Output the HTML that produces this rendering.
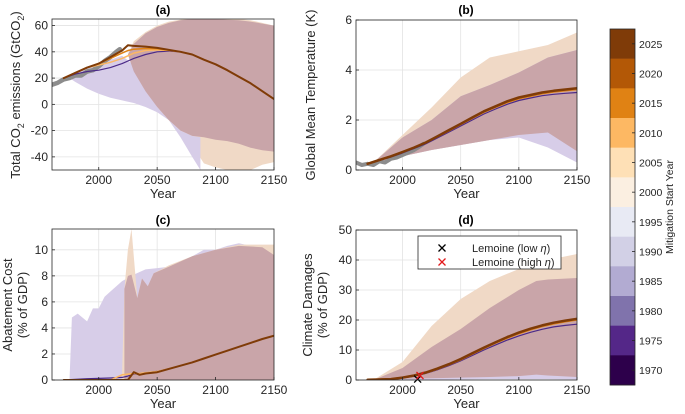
<!DOCTYPE html>
<html><head><meta charset="utf-8">
<style>
body{margin:0;background:#fff;}
svg{display:block;font-family:"Liberation Sans",sans-serif;}
</style></head>
<body>
<svg id="fig" width="685" height="414" viewBox="0 0 685 414" xmlns="http://www.w3.org/2000/svg"></svg>
<script>
// ---------- DATA ----------
// Panel (a) emissions
const aYears=[1970,1980,1990,2000,2010,2020,2025,2030,2040,2050,2060,2070,2080,2090,2100,2110,2120,2130,2140,2150];
const aLine2025=[20,24,28,31,36,41,45,44.5,44,43,41.5,40,38,34,30.5,26,21,16,10,4];
const aLine2015=[20,24,28,31,35,39,41,42,42.5,42.3,41.2,40,38,34,30.5,26,21,16,10,4];
const aLine2005=[20,24,28,30,32,35,37,39,41,41.5,41,40,38,34,30.5,26,21,16,10,4];
const aLine1970=[20,23,25,26,28,31,33,35,38,40,40.5,40,38,34,30.5,26,21,16,10,4];
const aHistYears=[1960,1965,1970,1975,1980,1985,1990,1995,2000,2005,2010,2015,2018];
const aHist=[15,16.5,19,20,22,22,25,26,29,33,36,40,42];
const aPurpleYears=[1975,1980,1990,2000,2010,2020,2030,2040,2050,2060,2070,2080,2087];
const aPurpleLo=[20,17,12,8,5,3,1,-2,-6,-12,-25,-40,-50];
const aPurpleHi=[21,24,28,31,34,37,30,12,-2,-12,-20,-24,-25];
const aTanYears=[2025,2030,2040,2050,2060,2080,2085,2090,2100,2110,2120,2130,2140,2150];
const aTanLo=[38,25,10,-2,-12,-25,-38,-45,-48,-50,-50,-50,-46,-44];
const aTanHi=[38,48,55,60,63,66,66,66,66,66,65,64,62,60];
const aOvYears=[2025,2030,2040,2050,2060,2070,2080,2090,2100,2110,2120,2130,2140,2150];
const aOvLo=[38,25,10,-2,-12,-20,-24,-25,-27,-28,-30,-33,-35,-36];
const aOvHi=[38,46,54,59,62,64,65,65,65,64.5,64,63,61.5,60];

// Panel (b) temperature
const bYears=[1970,1980,1990,2000,2010,2020,2030,2040,2050,2060,2070,2080,2090,2100,2110,2120,2130,2140,2150];
const bLine2025=[0.25,0.4,0.55,0.72,0.9,1.1,1.35,1.6,1.85,2.1,2.35,2.55,2.75,2.9,3.0,3.1,3.17,3.22,3.27];
const bLine2015=[0.25,0.4,0.55,0.72,0.9,1.1,1.34,1.58,1.83,2.08,2.32,2.52,2.71,2.86,2.96,3.06,3.13,3.18,3.23];
const bLine1970=[0.25,0.38,0.52,0.68,0.86,1.05,1.28,1.52,1.76,2.0,2.24,2.44,2.63,2.78,2.88,2.97,3.03,3.07,3.1];
const bHistYears=[1960,1965,1970,1975,1980,1985,1990,1995,2000,2005,2010,2015,2018];
const bHist=[0.3,0.2,0.25,0.2,0.35,0.3,0.45,0.5,0.6,0.7,0.8,0.95,1.05];
const bBandYears=[1975,2000,2025,2050,2075,2100,2125,2150];
const bTanLo=[0.25,0.55,0.8,1.0,1.2,1.4,1.5,0.75];
const bTanHi=[0.3,1.4,2.5,3.7,4.5,4.75,5.0,5.5];
const bPurpleLo=[0.25,0.55,0.8,1.0,1.2,1.3,0.9,0.3];
const bPurpleHi=[0.3,1.3,2.0,2.95,3.4,3.9,4.5,4.8];
const bOvLo=[0.25,0.55,0.8,1.0,1.2,1.4,1.5,0.75];
const bOvHi=[0.3,1.3,2.0,2.95,3.4,3.9,4.5,4.8];

// Panel (c) abatement cost
const cYears=[1970,1980,1990,2000,2010,2020,2025,2030,2035,2040,2050,2060,2070,2080,2090,2100,2110,2120,2130,2140,2150];
const cLine2025=[0,0,0,0,0,0,0,0.6,0.4,0.5,0.6,0.85,1.1,1.35,1.65,1.95,2.25,2.55,2.85,3.15,3.4];
const cLine2010=[0,0,0,0,0,0.4,0.45,0.5,0.5,0.55,0.65,0.87,1.1,1.35,1.65,1.95,2.25,2.55,2.85,3.15,3.4];
const cLine1970=[0,0.05,0.1,0.12,0.15,0.2,0.3,0.45,0.5,0.55,0.66,0.87,1.1,1.35,1.65,1.95,2.25,2.55,2.85,3.15,3.4];
const cPurpleYears=[1975,1977,1982,1990,1995,2000,2005,2010,2020,2030,2040,2050,2060,2070,2080,2090,2100,2110,2120,2130,2140,2150];
const cPurpleHi=[0,4.8,5.1,4.5,5.5,5.5,6.4,6.8,7.6,8.1,8.5,8.6,8.7,9.0,9.5,10,10,10.3,10.5,10.3,10.2,9.6];
const cTanYears=[2020,2022,2025,2028,2033,2037,2042,2047,2060,2080,2100,2120,2150];
const cTanHi=[0.5,7,10,11.6,6.3,7.8,7.2,8.2,8.8,9.5,10,10.4,10.4];
const cOvYears=[2022,2025,2028,2033,2037,2042,2047,2060,2080,2100,2120,2140,2150];
const cOvHi=[7,8,8.1,6.3,7.8,7.2,8.2,8.7,9.5,10,10.3,10.2,9.6];

// Panel (d) damages
const dYears=[1970,1990,2000,2010,2020,2030,2040,2050,2060,2070,2080,2090,2100,2110,2120,2130,2140,2150];
const dLine2025=[0.1,0.3,0.8,1.5,2.5,3.8,5.3,7,8.9,10.8,12.6,14.3,15.8,17.1,18.2,19.1,19.8,20.4];
const dLine2015=[0.1,0.3,0.8,1.5,2.4,3.7,5.2,6.8,8.7,10.6,12.4,14.0,15.5,16.8,17.9,18.8,19.5,20.1];
const dLine1970=[0.1,0.3,0.7,1.3,2.2,3.4,4.8,6.4,8.2,10.0,11.7,13.3,14.7,15.9,16.9,17.7,18.2,18.6];
const dBandYears=[1975,2000,2025,2050,2075,2100,2115,2125,2150];
const dTanHi=[0,6,18,27,33,37,38.5,40,42];
const dOvLo=[0,0.2,0.4,0.6,0.8,1.0,1.2,1.1,0.8];
const dOvHi=[0,4,11,17,24,30,33,33.5,34];
const dPurpleLo=[0,0.1,0.1,0.2,0.3,0.3,0.3,0.3,0.2];
const dPurpleHi=[0,0.4,0.6,0.8,1.0,1.3,1.8,1.5,1.0];
const lemYears=[2013,2015];
const lemVals=[0.3,1.5];

// Colorbar
const cbYears=[2025,2020,2015,2010,2005,2000,1995,1990,1985,1980,1975,1970];
const cbColors=["#7f3b08","#b35806","#e08214","#fdb863","#fee0b6","#fbefe1","#e8eaf4","#d2d0e6","#b2abd2","#8073ac","#542788","#2d004b"];

// ---------- DRAWING ----------
const NS="http://www.w3.org/2000/svg";
const svg=document.getElementById('fig');
function el(tag,attrs,parent){const e=document.createElementNS(NS,tag);for(const k in attrs)e.setAttribute(k,attrs[k]);(parent||svg).appendChild(e);return e;}
const PUR="#d7cde8",TAN="#f0d9c6",OV="#c9a5a9",GRAY="#8c8c8c";

function makeAxes(name,x0,x1,y0,y1,xmin,xmax,ymin,ymax,yticks){
  const g=el('g',{});
  
  
  const sx=v=>x0+(v-xmin)/(xmax-xmin)*(x1-x0);
  const sy=v=>y1-(v-ymin)/(ymax-ymin)*(y1-y0);
  const cp='clip-'+name;
  const c=el('clipPath',{id:cp},g);el('rect',{x:x0,y:y0,width:x1-x0,height:y1-y0},c);
  const grid=el('g',{},g);
  
  
  [2000,2050,2100].forEach(t=>el('line',{x1:sx(t),x2:sx(t),y1:y0,y2:y1,stroke:'#e3e3e3','stroke-width':0.8},grid));
  yticks.forEach(t=>el('line',{x1:x0,x2:x1,y1:sy(t),y2:sy(t),stroke:'#e3e3e3','stroke-width':0.8},grid));
  const plot=el('g',{'clip-path':'url(#'+cp+')'},g);
  
  
  return {g,plot,sx,sy,x0,x1,y0,y1,yticks};
}
function finishAxes(ax,name){
  const {g,sx,sy,x0,x1,y0,y1,yticks}=ax;
  el('rect',{x:x0,y:y0,width:x1-x0,height:y1-y0,fill:'none',stroke:'#262626','stroke-width':0.8},g);
  [2000,2050,2100,2150].forEach(t=>{
    el('line',{x1:sx(t),x2:sx(t),y1:y1,y2:y1-3,stroke:'#262626','stroke-width':0.8},g);
    const tx=el('text',{x:sx(t),y:y1+14,'text-anchor':'middle','font-size':12,fill:'#262626'},g);
    tx.textContent=t;
    
    
  });
  yticks.forEach(t=>{
    el('line',{x1:x0,x2:x0+3,y1:sy(t),y2:sy(t),stroke:'#262626','stroke-width':0.8},g);
    const tx=el('text',{x:x0-4,y:sy(t)+4,'text-anchor':'end','font-size':12,fill:'#262626'},g);
    tx.textContent=t;
    
    
  });
  const xl=el('text',{x:(x0+x1)/2,y:y1+28,'text-anchor':'middle','font-size':13,fill:'#262626'},g);
  xl.textContent='Year';
  
  
}
function band(ax,years,lo,hi,color,name){
  let d='';
  years.forEach((y,i)=>{d+=(i?'L':'M')+ax.sx(y).toFixed(1)+','+ax.sy(hi[i]).toFixed(1);});
  for(let i=years.length-1;i>=0;i--)d+='L'+ax.sx(years[i]).toFixed(1)+','+ax.sy(lo[i]).toFixed(1);
  const p=el('path',{d:d+'Z',fill:color,stroke:'none'},ax.plot);
  
  
}
function line(ax,years,vals,color,w,name){
  const d=years.map((y,i)=>(i?'L':'M')+ax.sx(y).toFixed(1)+','+ax.sy(vals[i]).toFixed(1)).join('');
  const p=el('path',{d,fill:'none',stroke:color,'stroke-width':w,'stroke-linejoin':'round','stroke-linecap':'round'},ax.plot);
  
  
}
function title(txt,x,y,name){
  const t=el('text',{x,y,'text-anchor':'middle','font-size':12,'font-weight':'bold',fill:'#000'});
  t.textContent=txt;
  
  
}
function ylabel(lines,x,y,name){
  const t=el('text',{transform:`translate(${x},${y}) rotate(-90)`,'text-anchor':'middle','font-size':13,fill:'#262626'});
  
  
  lines.forEach((l,i)=>{const s=el('tspan',{x:0,dy:i?15:0},t);s.textContent=l;});
  return t;
}
const zeros=a=>a.map(()=>0);

// Panel (a)
const A=makeAxes('panel-a',52,274,19,170,1960,2150,-50,65,[-40,-20,0,20,40,60]);
band(A,aTanYears,aTanLo,aTanHi,TAN,'a-band-late');
band(A,aPurpleYears,aPurpleLo,aPurpleHi,PUR,'a-band-early');
band(A,aOvYears,aOvLo,aOvHi,OV,'a-band-overlap');
line(A,aHistYears,aHist,GRAY,4.5,'a-historical');
line(A,aYears,aLine1970,'#4b2a88',1.2,'a-line-1970');
line(A,aYears,aLine2005,'#fdb863',1.5,'a-line-2005');
line(A,aYears,aLine2015,'#e08214',1.5,'a-line-2015');
line(A,aYears,aLine2025,'#7f3b08',2,'a-line-2025');
finishAxes(A,'panel-a');
title('(a)',163,14,'title-a');
const yla=el('text',{transform:'translate(20,95) rotate(-90)','text-anchor':'middle','font-size':13,fill:'#262626'});


yla.innerHTML='Total CO<tspan font-size="9" dy="4">2</tspan><tspan dy="-4"> emissions (GtCO</tspan><tspan font-size="9" dy="4">2</tspan><tspan dy="-4">)</tspan>';

// Panel (b)
const B=makeAxes('panel-b',356,577,20,170,1960,2150,0,6,[0,2,4,6]);
band(B,bBandYears,bTanLo,bTanHi,TAN,'b-band-late');
band(B,bBandYears,bPurpleLo,bPurpleHi,PUR,'b-band-early');
band(B,bBandYears,bOvLo,bOvHi,OV,'b-band-overlap');
line(B,bHistYears,bHist,GRAY,4,'b-historical');
line(B,bYears,bLine1970,'#4b2a88',1.2,'b-line-1970');
line(B,bYears,bLine2015,'#e08214',2,'b-line-2015');
line(B,bYears,bLine2025,'#7f3b08',2.5,'b-line-2025');
finishAxes(B,'panel-b');
title('(b)',466,14,'title-b');
ylabel(['Global Mean Temperature (K)'],315,95,'b-y-axis-title');

// Panel (c)
const C=makeAxes('panel-c',52,274,229,380,1960,2150,0,11.6,[0,2,4,6,8,10]);
band(C,cPurpleYears,zeros(cPurpleYears),cPurpleHi,PUR,'c-band-early');
band(C,cTanYears,zeros(cTanYears),cTanHi,TAN,'c-band-late');
band(C,cOvYears,zeros(cOvYears),cOvHi,OV,'c-band-overlap');
line(C,cYears,cLine1970,'#4b2a88',1.2,'c-line-1970');
line(C,cYears,cLine2010,'#fdb863',1.5,'c-line-2010');
line(C,cYears,cLine2025,'#7f3b08',2,'c-line-2025');
finishAxes(C,'panel-c');
title('(c)',163,224,'title-c');
ylabel(['Abatement Cost','(% of GDP)'],12,305,'c-y-axis-title');

// Panel (d)
const D=makeAxes('panel-d',356,577,230,380,1960,2150,0,50,[0,10,20,30,40,50]);
band(D,dBandYears,dOvLo,dTanHi,TAN,'d-band-late');
band(D,dBandYears,dOvLo,dOvHi,OV,'d-band-overlap');
band(D,dBandYears,dPurpleLo,dPurpleHi,PUR,'d-band-early');
line(D,dYears,dLine1970,'#4b2a88',1.2,'d-line-1970');
line(D,dYears,dLine2015,'#e08214',2,'d-line-2015');
line(D,dYears,dLine2025,'#7f3b08',2.5,'d-line-2025');
const mk=['#000','#e31a1c'];
lemYears.forEach((y,i)=>{
  const cx=D.sx(y),cy=D.sy(lemVals[i]);
  const m=el('path',{d:`M${cx-3.5},${cy-3.5}L${cx+3.5},${cy+3.5}M${cx-3.5},${cy+3.5}L${cx+3.5},${cy-3.5}`,stroke:mk[i],'stroke-width':1.3},D.g);
  
  
});
finishAxes(D,'panel-d');
title('(d)',466,224,'title-d');
ylabel(['Climate Damages','(% of GDP)'],312,305,'d-y-axis-title');
const leg=el('g',{});


el('rect',{x:418,y:236,width:143,height:33,fill:'#fff',stroke:'#262626','stroke-width':0.8},leg);
[['Lemoine (low ','#000',248],['Lemoine (high ','#e31a1c',262]].forEach((r,i)=>{
  const e=el('g',{},leg);
  
  
  el('path',{d:`M${442-3.5},${r[2]-3.5}L${442+3.5},${r[2]+3.5}M${442-3.5},${r[2]+3.5}L${442+3.5},${r[2]-3.5}`,stroke:r[1],'stroke-width':1.3},e);
  const t=el('text',{x:472,y:r[2]+4,'font-size':11,fill:'#262626'},e);
  t.innerHTML=r[0]+'<tspan font-style="italic">η</tspan>)';
});

// Colorbar
const cb=el('g',{});


const cbx=610,cbw=25,cbTop=29,cbBot=385;
const ch=(cbBot-cbTop)/cbYears.length;
cbYears.forEach((y,i)=>{
  const r=el('rect',{x:cbx,y:cbTop+i*ch,width:cbw,height:ch+0.3,fill:cbColors[i]},cb);
  
  
  el('line',{x1:cbx+cbw-3,x2:cbx+cbw,y1:cbTop+(i+0.5)*ch,y2:cbTop+(i+0.5)*ch,stroke:'#262626','stroke-width':0.8},cb);
  const t=el('text',{x:cbx+cbw+4,y:cbTop+(i+0.5)*ch+4,'font-size':10.5,fill:'#262626'},cb);
  t.textContent=y;
});
el('rect',{x:cbx,y:cbTop,width:cbw,height:cbBot-cbTop,fill:'none',stroke:'#262626','stroke-width':0.8},cb);
const cbt=el('text',{transform:'translate(673,207) rotate(-90)','text-anchor':'middle','font-size':10.5,fill:'#262626'},cb);
cbt.textContent='Mitigation Start Year';
</script>
</body></html>
